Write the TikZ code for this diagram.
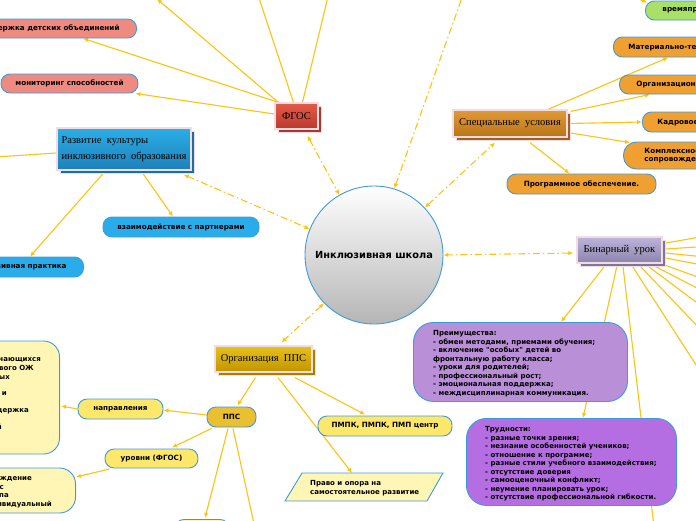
\documentclass[tikz,border=0pt]{standalone}
\usepackage{fontspec}
\setmainfont{Liberation Serif}
\newfontfamily\vf{DejaVu Sans}
\usetikzlibrary{shadows,calc,arrows.meta,backgrounds}
\definecolor{ey}{HTML}{FFC20E}
\definecolor{pb}{HTML}{3D9BDB}
\definecolor{frame}{HTML}{F2DCE4}
\definecolor{pk}{HTML}{EE8A80}
\definecolor{bl}{HTML}{2AACEA}
\definecolor{gr}{HTML}{A8E068}
\definecolor{orn}{HTML}{F0A030}
\definecolor{yl}{HTML}{FDE86C}
\definecolor{ppsc}{HTML}{EAC030}
\definecolor{ly}{HTML}{FFF5B5}
\definecolor{pa}{HTML}{B98FD8}
\definecolor{pd}{HTML}{B56EE2}
\definecolor{fa}{HTML}{E55A48}\definecolor{fb}{HTML}{B83A2E}\definecolor{fs}{HTML}{A8382E}
\definecolor{ra}{HTML}{2BAEE8}\definecolor{rb}{HTML}{1E80B8}\definecolor{rs}{HTML}{1A6FA0}
\definecolor{sa}{HTML}{E29A35}\definecolor{sb}{HTML}{B87418}\definecolor{ss}{HTML}{A0601A}
\definecolor{ba}{HTML}{BDB4DA}\definecolor{bb}{HTML}{8C84AC}\definecolor{bs}{HTML}{7D7698}
\definecolor{oa}{HTML}{E8C21A}\definecolor{ob}{HTML}{C09400}\definecolor{os}{HTML}{A88000}
\definecolor{cg}{HTML}{B5B5B5}
\tikzset{
 ed/.style={draw=ey, line width=1.1pt, -{Latex[length=5pt,width=4.5pt]}},
 ln/.style={draw=ey, line width=1.1pt},
 dd/.style={draw=ey, line width=1.1pt, dash pattern=on 7pt off 3pt on 1.5pt off 3pt, {Latex[length=5pt,width=4.5pt]}-{Latex[length=5pt,width=4.5pt]}},
 pill/.style={draw=pb, line width=0.9pt, rounded corners=9pt, inner sep=0pt, font=\vf\bfseries\fontsize{7.2}{8.5}\selectfont, text=black},
 tbox/.style n args={3}{top color=#1, bottom color=#2, draw=frame, line width=1.2pt,
   general shadow={shadow xshift=3.5pt, shadow yshift=-3.5pt, fill=#3, draw=frame, line width=1.2pt},
   inner sep=0pt, text=black, font=\fontsize{10.5}{16}\selectfont},
 circ/.style={circle, minimum size=138pt, inner sep=0pt, draw=pb, line width=0.9pt, top color=white, bottom color=cg, font=\vf\bfseries\fontsize{9.8}{11}\selectfont},
 bigbox/.style={draw=pb, line width=0.9pt, fill=ly, rounded corners=16pt, inner sep=0pt},
 txt/.style={inner sep=0pt, font=\vf\bfseries\fontsize{7}{8.5}\selectfont, align=left},
 frag/.style={inner sep=0pt, font=\vf\bfseries\fontsize{7}{8.5}\selectfont, anchor=base east}
}
\begin{document}
\begin{tikzpicture}[x=1pt,y=-1pt]
\useasboundingbox (0,0) rectangle (696,520);

% centre
\node[circ] (c) at (374,255) {Инклюзивная школа};

% main boxes
\node[tbox={fa}{fb}{fs}, minimum width=43pt, minimum height=26pt] (fgos) at (296.5,116) {ФГОС};
\node[tbox={ra}{rb}{rs}, minimum width=134pt, minimum height=42pt, align=left] (razv) at (124,149) {Развитие~ культуры\\инклюзивного~ образования};
\node[tbox={sa}{sb}{ss}, minimum width=114pt, minimum height=27pt] (spec) at (510,123.5) {Специальные~ условия};
\node[tbox={ba}{bb}{bs}, minimum width=85pt, minimum height=26pt] (bin) at (619.5,250) {Бинарный~ урок};
\node[tbox={oa}{ob}{os}, minimum width=97pt, minimum height=26pt] (org) at (263.5,359) {Организация~ ППС};

% pills
\node[pill, fill=pk, anchor=east, minimum height=19pt, inner xsep=17pt] (pink1) at (137,28.5) {Поддержка детских объединений};
\node[pill, fill=pk, minimum width=137pt, minimum height=19pt] (mon) at (69.5,83.5) {мониторинг способностей};
\node[pill, fill=bl, minimum width=156pt, minimum height=20pt] (vz) at (181,227) {взаимодействие с партнерами};
\node[pill, fill=bl, anchor=east, minimum height=20pt, inner xsep=17pt] (prak) at (84,267) {Инклюзивная практика};
\node[pill, fill=gr, anchor=west, minimum height=19pt, inner xsep=17pt] (green) at (645,10.5) {времяпровождение};
\node[pill, fill=orn, anchor=west, minimum height=20pt, inner xsep=15pt] (mat) at (613,47) {Материально-техническое обеспечение};
\node[pill, fill=orn, anchor=west, minimum height=19pt, inner xsep=17pt] (orgob) at (619,84.5) {Организационное обеспечение};
\node[pill, fill=orn, anchor=west, minimum height=20pt, inner xsep=15pt] (kadr) at (642,122) {Кадровое обеспечение};
\node[pill, fill=orn, anchor=west, minimum height=27pt, inner xsep=21pt, align=left, rounded corners=13pt] (kompl) at (623,155.5) {Комплексное\\сопровождение};
\node[pill, fill=orn, minimum width=149pt, minimum height=20pt] (prog) at (581.5,184) {Программное обеспечение.};

\node[pill, fill=ppsc, minimum width=49pt, minimum height=20pt] (pps) at (231.5,417) {ППС};
\node[pill, fill=yl, minimum width=85pt, minimum height=20pt] (napr) at (120.5,409) {направления};
\node[pill, fill=yl, minimum width=93pt, minimum height=19pt] (urov) at (151.5,458.5) {уровни (ФГОС)};
\node[pill, fill=yl, minimum width=134pt, minimum height=20pt] (pmpk) at (385,426) {ПМПК, ПМПК, ПМП центр};

% left yellow boxes
\node[bigbox, anchor=east, minimum width=160pt, minimum height=113pt] (bigl) at (60,397.5) {};
\node[frag] (b1) at (41,361.8) {обучающихся};
\node[frag] (b2) at (34,370.8) {здорового ОЖ};
\node[frag] (b3) at (10,379.2) {особых};
\node[frag] (b4) at (7,395.8) {и};
\node[frag] (b5) at (29,412.5) {поддержка};
\node[frag] (b6) at (2,429.2) {консультаций};
\node[bigbox, anchor=east, minimum width=160pt, minimum height=45pt] (lowl) at (76,490.5) {};
\node[frag] (l1) at (32,480.8) {учреждение};
\node[frag] (l2) at (4,489.2) {класс};
\node[frag] (l3) at (9,497.5) {группа};
\node[frag] (l4) at (52,506.2) {индивидуальный};
\node[bigbox, anchor=north, minimum width=54pt, minimum height=20pt, rounded corners=9pt] (botn) at (202,519) {};

% parallelogram
\draw[draw=pb, fill=ly, line width=0.9pt] (302,473) -- (443,473) -- (427,501) -- (285,501) -- cycle;
\coordinate (pravotop) at (352,473);
\node[txt, anchor=north west, font=\vf\bfseries\fontsize{7}{9}\selectfont] (pravo) at (310,480) {Право и опора на\\самостоятельное развитие};

% purple boxes
\node[bigbox, fill=pa, rounded corners=20pt, anchor=north west, minimum width=214pt, minimum height=79pt] (adv) at (413,322) {};
\node[txt, anchor=north west] (advt) at (433,330.3) {Преимущества:\\- обмен методами, приемами обучения;\\- включение "особых" детей во\\фронтальную работу класса;\\- уроки для родителей;\\- профессиональный рост;\\- эмоциональная поддержка;\\- междисциплинарная коммуникация.};
\node[bigbox, fill=pd, rounded corners=20pt, anchor=north west, minimum width=210pt, minimum height=87pt] (dif) at (466,418) {};
\node[txt, anchor=north west] (dift) at (485,426.3) {Трудности:\\- разные точки зрения;\\- незнание особенностей учеников;\\- отношение к программе;\\- разные стили учебного взаимодействия;\\- отсутствие доверия\\- самооценочный конфликт;\\- неумение планировать урок;\\- отсутствие профессиональной гибкости.};

% off-canvas end points
\coordinate (t1) at (157,-1);
\coordinate (t2) at (253,-20);
\coordinate (t3) at (332,-20);
\coordinate (t4) at (470,-25);
\coordinate (t5) at (605,-15);
\coordinate (lft) at (-20,158);
\coordinate (r1) at (720,233.6);
\coordinate (r2) at (720,245.5);
\coordinate (r3) at (720,258.5);
\coordinate (r4) at (720,268.5);
\coordinate (r5) at (720,285);
\coordinate (r6) at (720,300);
\coordinate (r7) at (720,320);
\coordinate (r8) at (720,350);
\coordinate (r9) at (720,402);
\coordinate (r10) at (658,560);
\coordinate (dn) at (262,560);

\begin{pgfonlayer}{background}
% FGOS
\draw[ed] ($(fgos.north west)+(4,0)$) -- ($(pink1.south east)+(-54,0)$);
\draw[ed] ($(fgos.west)+(0,-2)$) -- ($(mon.south east)+(-3,0)$);
\draw[ed] ($(fgos.north west)+(4,0)$) -- (t1);
\draw[ln] ($(fgos.north)+(-3,0)$) -- (t2);
\draw[ln] ($(fgos.north)+(6,0)$) -- (t3);
\draw[dd] ($(fgos.south)+(11,6)$) -- (c.120);
% Razvitie
\draw[ln] ($(razv.west)+(0,4)$) -- (lft);
\draw[ed] ($(razv.south)+(-21,3)$) -- ($(prak.north east)+(-54,0)$);
\draw[ed] ($(razv.south)+(19,3)$) -- ($(vz.north)+(-8,0)$);
\draw[dd] ($(razv.south east)+(-8,4)$) -- (c.158);
% top
\draw[dd] (c.73) -- (t4);
\draw[ed] (t5) -- ($(green.west)+(2,-8)$);
% Spec
\draw[dd] (c.43) -- ($(spec.south)+(-15,5)$);
\draw[ed] ($(spec.north)+(38,0)$) -- ($(mat.south west)+(55,0)$);
\draw[ed] ($(spec.north east)+(3,2)$) -- ($(orgob.south west)+(31,0)$);
\draw[ed] (spec.east) -- (kadr.west);
\draw[ed] ($(spec.east)+(0,9)$) -- ($(kompl.north west)+(7,1)$);
\draw[ed] ($(spec.south)+(20,5)$) -- ($(prog.north)+(-12,0)$);
% Binary
\draw[dd] ($(bin.west)+(-3,3)$) -- (c.east);
\draw[ln] ($(bin.east)+(3,-7)$) -- (r1);
\draw[ln] ($(bin.east)+(3,-1)$) -- (r2);
\draw[ln] ($(bin.east)+(3,3)$) -- (r3);
\draw[ln] ($(bin.east)+(3,8)$) -- (r4);
\draw[ln] ($(bin.south east)+(-2,0)$) -- (r5);
\draw[ln] ($(bin.south east)+(-7,3)$) -- (r6);
\draw[ln] ($(bin.south east)+(-14,3)$) -- (r7);
\draw[ln] ($(bin.south east)+(-22,3)$) -- (r8);
\draw[ln] ($(bin.south east)+(-30,3)$) -- (r9);
\draw[ln] ($(bin.south)+(3.5,3)$) -- (r10);
\draw[ed] ($(bin.south)+(-14.5,2)$) -- ($(adv.north west)+(148,0)$);
\draw[ed] ($(bin.south)+(-2.5,2)$) -- ($(dif.north west)+(117,0)$);
% Organisation
\draw[dd] (c.224) -- ($(org.north)+(18,-3)$);
\draw[ed] ($(org.south)+(-8,5)$) -- ($(pps.north)+(6,-1)$);
\draw[ed] ($(org.south)+(31.5,5)$) -- ($(pmpk.north)+(-20,-1)$);
\draw[ed] ($(org.south)+(14.5,5)$) -- (pravotop);
\draw[ed] ($(pps.west)+(0,-2)$) -- ($(napr.east)+(0,1)$);
\draw[ed] (napr.west) -- ($(bigl.east)+(1,8.5)$);
\draw[ed] ($(pps.south west)+(5,1)$) -- ($(urov.north)+(20.5,-1)$);
\draw[ed] ($(urov.south west)+(5,0.5)$) -- ($(lowl.east)+(0,-13.5)$);
\draw[ed] ($(pps.south)+(-3.5,1)$) -- ($(botn.north)+(3,-1)$);
\draw[ln] ($(pps.south)+(1.5,1)$) -- (dn);
\end{pgfonlayer}
\end{tikzpicture}
\end{document}
